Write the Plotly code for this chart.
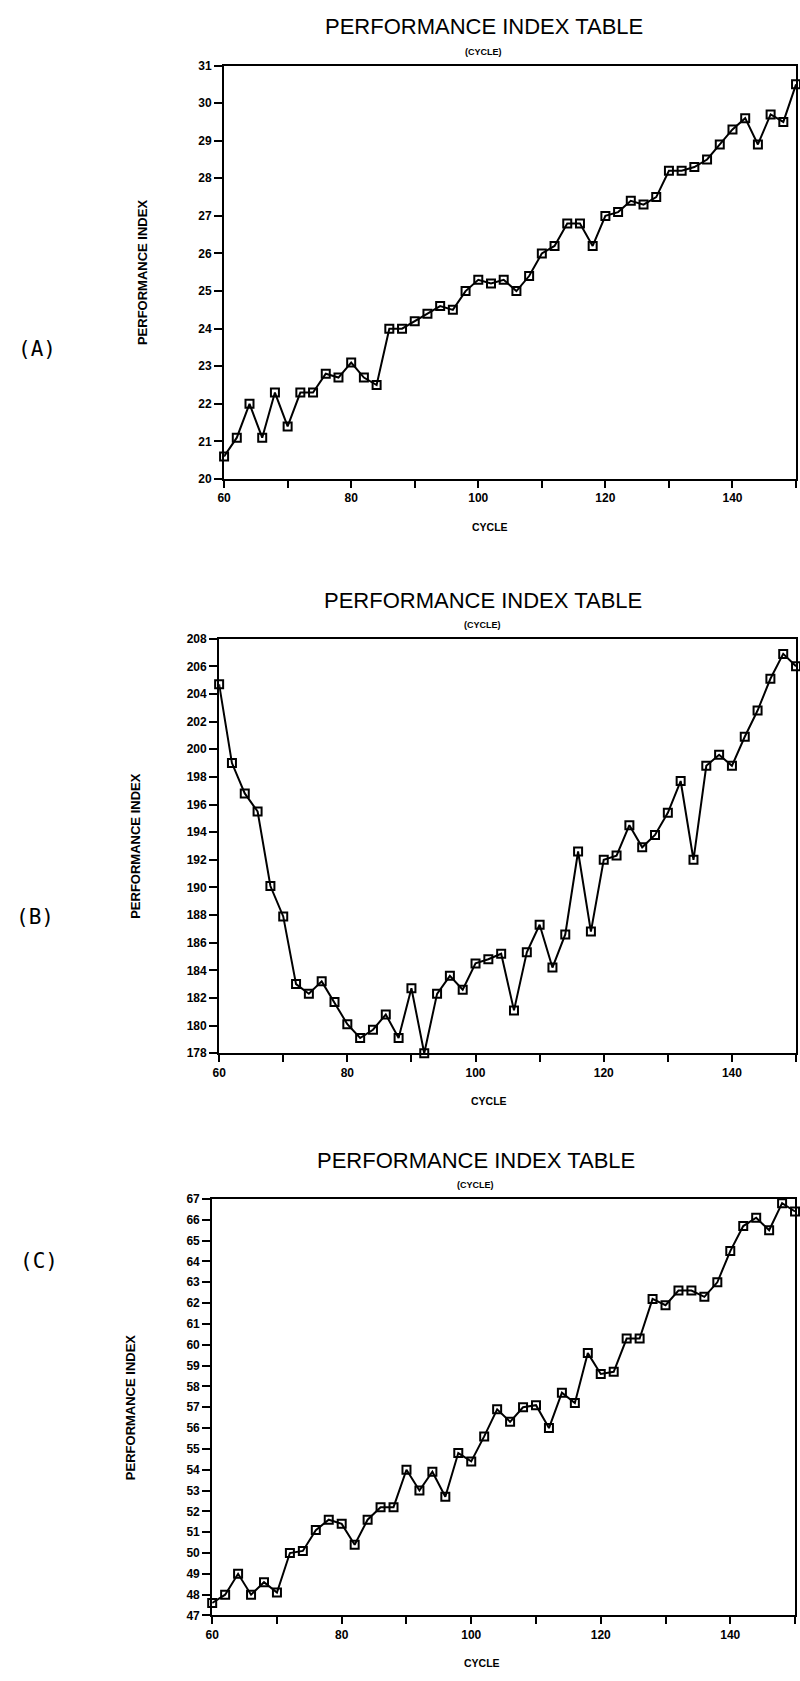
import plotly.graph_objects as go

cycle = list(range(60, 151, 2))

perf_a = [20.6, 21.1, 22.0, 21.1, 22.3, 21.4, 22.3, 22.3, 22.8, 22.7,
          23.1, 22.7, 22.5, 24.0, 24.0, 24.2, 24.4, 24.6, 24.5, 25.0,
          25.3, 25.2, 25.3, 25.0, 25.4, 26.0, 26.2, 26.8, 26.8, 26.2,
          27.0, 27.1, 27.4, 27.3, 27.5, 28.2, 28.2, 28.3, 28.5, 28.9,
          29.3, 29.6, 28.9, 29.7, 29.5, 30.5]

perf_b = [204.7, 199.0, 196.8, 195.5, 190.1, 187.9, 183.0, 182.3, 183.2, 181.7,
          180.1, 179.1, 179.7, 180.8, 179.1, 182.7, 178.0, 182.3, 183.6, 182.6,
          184.5, 184.8, 185.2, 181.1, 185.3, 187.3, 184.2, 186.6, 192.6, 186.8,
          192.0, 192.3, 194.5, 192.9, 193.8, 195.4, 197.7, 192.0, 198.8, 199.6,
          198.8, 200.9, 202.8, 205.1, 206.9, 206.0]

perf_c = [47.6, 48.0, 49.0, 48.0, 48.6, 48.1, 50.0, 50.1, 51.1, 51.6,
          51.4, 50.4, 51.6, 52.2, 52.2, 54.0, 53.0, 53.9, 52.7, 54.8,
          54.4, 55.6, 56.9, 56.3, 57.0, 57.1, 56.0, 57.7, 57.2, 59.6,
          58.6, 58.7, 60.3, 60.3, 62.2, 61.9, 62.6, 62.6, 62.3, 63.0,
          64.5, 65.7, 66.1, 65.5, 66.8, 66.4]

x_tickvals = list(range(60, 151, 10))
x_ticktext = ["60", "", "80", "", "100", "", "120", "", "140", ""]

ya_ticks = list(range(20, 32, 1))
yb_ticks = list(range(178, 209, 2))
yc_ticks = list(range(47, 68, 1))

title_text = "PERFORMANCE INDEX TABLE"
subtitle_text = "(CYCLE)"
x_title = "CYCLE"
y_title = "PERFORMANCE INDEX"
panel_labels = ["(A)", "(B)", "(C)"]

W, H = 800, 1681

# pixel boxes: left, right, top, bottom
boxes = [(219, 796, 59, 476), (214, 796, 637, 1055), (207, 795, 1202, 1622)]
yranges = [(20, 31), (178, 208), (47, 67)]
yticks = [ya_ticks, yb_ticks, yc_ticks]
series = [perf_a, perf_b, perf_c]
ytitle_x = [136, 130, 124]
label_pos = [(30, 345), (28, 918), (32, 1265)]
title_cx = [481, 480, 473]


def px(x):
    return x / W


def py(y):
    return 1 - y / H


fig = go.Figure()
layout = dict(
    width=W, height=H, margin=dict(l=0, r=0, t=0, b=0),
    paper_bgcolor="white", plot_bgcolor="white", showlegend=False,
    font=dict(family="Liberation Sans, Arial, sans-serif", color="black"),
)
annotations = []
tickfont = dict(family="Liberation Sans Narrow, Liberation Sans, Arial", size=12,
                color="black", weight="bold")

for i in range(3):
    l, r, t, b = boxes[i]
    xa = "x" if i == 0 else f"x{i+1}"
    ya = "y" if i == 0 else f"y{i+1}"
    xkey = "xaxis" if i == 0 else f"xaxis{i+1}"
    ykey = "yaxis" if i == 0 else f"yaxis{i+1}"
    fig.add_trace(go.Scatter(
        x=cycle, y=series[i], xaxis=xa, yaxis=ya, mode="lines+markers",
        line=dict(color="black", width=2),
        marker=dict(symbol="square-open", size=8, color="black",
                    line=dict(color="black", width=2)),
        cliponaxis=False,
    ))
    layout[xkey] = dict(
        domain=[px(l), px(r)], anchor=ya, range=[60, 150],
        tickmode="array", tickvals=x_tickvals, ticktext=x_ticktext,
        ticks="outside", ticklen=7, tickwidth=2, tickcolor="black",
        showline=True, linecolor="black", linewidth=2, mirror=True,
        showgrid=False, zeroline=False, tickfont=tickfont,
    )
    layout[ykey] = dict(
        domain=[py(b), py(t)], anchor=xa, range=list(yranges[i]),
        tickmode="array", tickvals=yticks[i],
        ticks="outside", ticklen=8, tickwidth=2, tickcolor="black",
        showline=True, linecolor="black", linewidth=2, mirror=True,
        showgrid=False, zeroline=False, tickfont=tickfont,
    )
    cx = title_cx[i]
    annotations.append(dict(
        text=title_text, x=px(cx), y=py(t - 39), xref="paper", yref="paper",
        showarrow=False, xanchor="center", yanchor="middle",
        font=dict(family="Liberation Sans, Arial", size=22, color="black"),
    ))
    annotations.append(dict(
        text=subtitle_text, x=px(cx), y=py(t - 14), xref="paper", yref="paper",
        showarrow=False, xanchor="center", yanchor="middle",
        font=dict(family="Liberation Sans Narrow, Liberation Sans, Arial", size=9,
                  color="black", weight="bold"),
    ))
    annotations.append(dict(
        text=x_title, x=px(cx + 6), y=py(b + 48), xref="paper", yref="paper",
        showarrow=False, xanchor="center", yanchor="middle",
        font=dict(family="Liberation Sans Narrow, Liberation Sans, Arial", size=10.5,
                  color="black", weight="bold"),
    ))
    annotations.append(dict(
        text=y_title, x=px(ytitle_x[i]), y=py((t + b) / 2), xref="paper", yref="paper",
        showarrow=False, xanchor="center", yanchor="middle", textangle=-90,
        font=dict(family="Liberation Sans Narrow, Liberation Sans, Arial", size=13,
                  color="black", weight="bold"),
    ))
    lx, ly = label_pos[i]
    annotations.append(dict(
        text=panel_labels[i], x=px(lx), y=py(ly), xref="paper", yref="paper",
        showarrow=False, xanchor="center", yanchor="middle",
        font=dict(family="DejaVu Sans Mono", size=21, color="black"),
    ))

layout["annotations"] = annotations
fig.update_layout(**layout)
fig.write_html("out.html")
